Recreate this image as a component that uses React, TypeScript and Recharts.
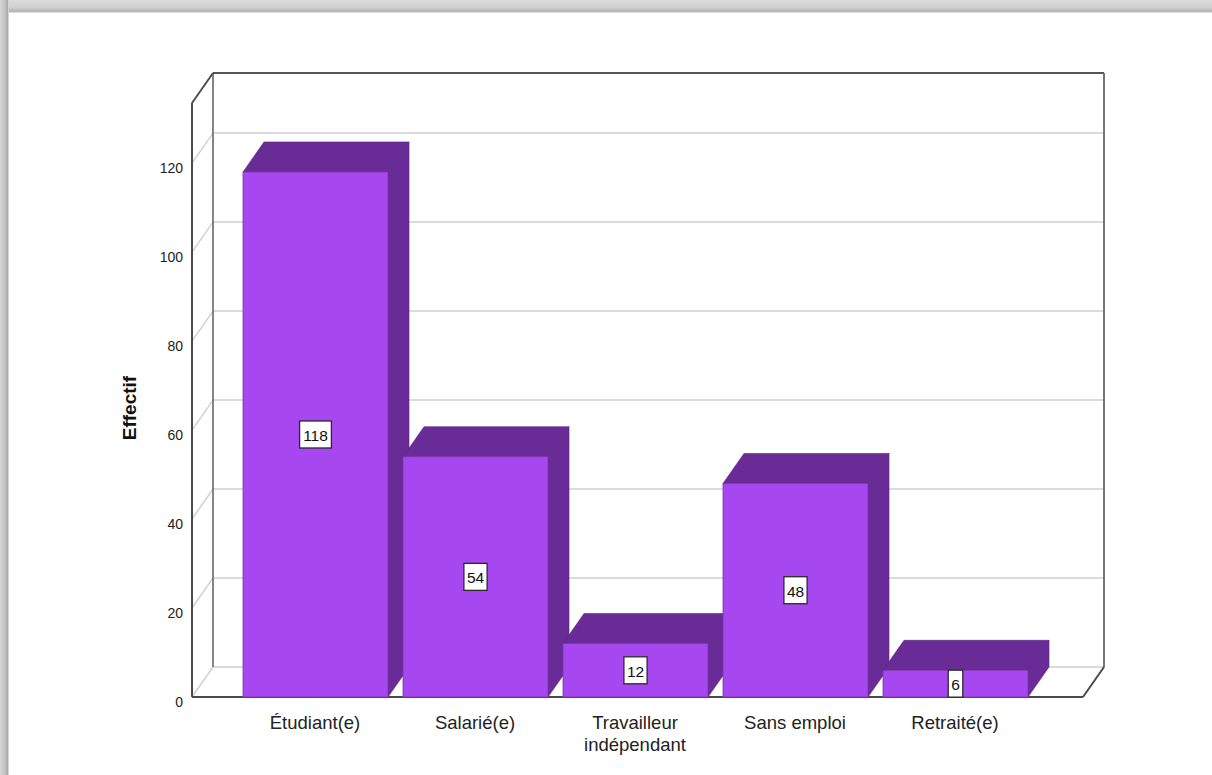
import React from 'react'
import { Bar, BarChart, CartesianGrid, Customized, LabelList, XAxis, YAxis, usePlotArea } from 'recharts'

const categories = ['Étudiant(e)', 'Salarié(e)', 'Travailleur\nindépendant', 'Sans emploi', 'Retraité(e)']
const counts = [118, 54, 12, 48, 6]
const yTicks = [0, 20, 40, 60, 80, 100, 120]
const yMax = 133.5

const data = categories.map((name, i) => ({ name, value: counts[i] }))

// depth of the fake 3d box
const DX = 21
const DY = -30
const FRONT = '#a647f0'
const DARK = '#692b95'
const FONT = '"Liberation Sans", Arial, sans-serif'

function Box3D(props: any) {
  const { x, y, width, height } = props
  if (!height) return null
  return (
    <g>
      <polygon
        points={`${x},${y} ${x + width},${y} ${x + width + DX},${y + DY} ${x + DX},${y + DY}`}
        fill={DARK}
        stroke="#5a2382"
        strokeWidth={0.6}
      />
      <polygon
        points={`${x + width},${y} ${x + width + DX},${y + DY} ${x + width + DX},${y + height + DY} ${x + width},${y + height}`}
        fill={DARK}
        stroke="#5a2382"
        strokeWidth={0.6}
      />
      <rect x={x} y={y} width={width} height={height} fill={FRONT} stroke="#7a35ad" strokeWidth={0.8} />
    </g>
  )
}

function ValueTag(props: any) {
  const { x, y, width, height, value } = props
  const cx = x + width / 2
  const cy = y + height / 2
  const w = String(value).length * 8.6 + 6
  return (
    <g>
      <rect x={cx - w / 2} y={cy - 13.5} width={w} height={27} fill="#fff" stroke="#2a2a2a" strokeWidth={1.3} />
      <text x={cx} y={cy + 1} textAnchor="middle" dominantBaseline="central" fontSize={15.5} fontFamily={FONT} fill="#111">
        {value}
      </text>
    </g>
  )
}

function GridLine(props: any) {
  const { x1, y1, x2 } = props
  return (
    <g key={props.key}>
      <line x1={x1 + DX} y1={y1 + DY} x2={x2 + DX} y2={y1 + DY} stroke="#cfcfcf" strokeWidth={1.6} />
      <line x1={x1} y1={y1} x2={x1 + DX} y2={y1 + DY} stroke="#cfcfcf" strokeWidth={1.4} />
    </g>
  )
}

function Frame() {
  const plot = usePlotArea()
  if (!plot) return null
  const { x, y, width: w, height: h } = plot
  const dark = '#4a4a4a'
  return (
    <g>
      <line x1={x + DX} y1={y + DY} x2={x + DX} y2={y + h + DY} stroke="#666" strokeWidth={1.6} />
      <line x1={x + DX} y1={y + DY} x2={x + w + DX} y2={y + DY} stroke="#555" strokeWidth={2} />
      <line x1={x + w + DX} y1={y + DY} x2={x + w + DX} y2={y + h + DY} stroke="#666" strokeWidth={1.8} />
      <line x1={x} y1={y} x2={x} y2={y + h} stroke={dark} strokeWidth={2} />
      <line x1={x} y1={y} x2={x + DX} y2={y + DY} stroke={dark} strokeWidth={1.8} />
      <line x1={x} y1={y + h} x2={x + w} y2={y + h} stroke={dark} strokeWidth={2} />
      <line x1={x + w} y1={y + h} x2={x + w + DX} y2={y + h + DY} stroke={dark} strokeWidth={2} />
      <text
        transform={`translate(${x - 63}, ${y + h / 2 + 8}) rotate(-90)`}
        textAnchor="middle"
        dominantBaseline="central"
        fontSize={19}
        fontWeight="bold"
        fontFamily={FONT}
        fill="#111"
      >
        Effectif
      </text>
    </g>
  )
}

function CategoryTick(props: any) {
  const { x, y, payload } = props
  const lines = String(payload.value).split('\n')
  return (
    <text x={x} y={y + 32} textAnchor="middle" fontSize={18.5} fontFamily={FONT} fill="#222">
      {lines.map((l, i) => (
        <tspan key={i} x={x} dy={i === 0 ? 0 : 22}>
          {l}
        </tspan>
      ))}
    </text>
  )
}

function CountTick(props: any) {
  const { x, y, payload } = props
  return (
    <text x={x} y={y + 5} textAnchor="end" dominantBaseline="central" fontSize={14} fontFamily={FONT} fill="#222">
      {payload.value}
    </text>
  )
}

export default function App() {
  return (
    <div style={{ position: 'absolute', left: 0, top: 0, width: 1212, height: 775, background: '#fff', overflow: 'hidden' }}>
      <div
        style={{
          position: 'absolute',
          left: 0,
          top: 0,
          width: 1212,
          height: 13,
          background: 'linear-gradient(to bottom, #dcdcdc 0%, #cfcfcf 60%, #b2b2b2 88%, #f2f2f2 100%)',
        }}
      />
      <div
        style={{
          position: 'absolute',
          left: 0,
          top: 0,
          width: 9,
          height: 775,
          background: 'linear-gradient(to right, #d6d6d6 0%, #c4c4c4 55%, #a9a9a9 85%, #f0f0f0 100%)',
        }}
      />
      <div style={{ position: 'absolute', left: 0, top: 0 }}>
        <BarChart width={1212} height={775} data={data} margin={{ top: 103, right: 129, left: 132, bottom: 18 }}>
          <Customized component={Frame} />
          <CartesianGrid vertical={false} horizontal={(p: any) => <GridLine {...p} />} />
          <XAxis
            dataKey="name"
            height={60}
            padding={{ left: 43, right: 48 }}
            axisLine={false}
            tickLine={false}
            tickSize={0}
            tickMargin={0}
            interval={0}
            tick={<CategoryTick />}
          />
          <YAxis
            width={60}
            domain={[0, yMax]}
            ticks={yTicks}
            axisLine={false}
            tickLine={false}
            tickSize={0}
            tickMargin={9}
            tick={<CountTick />}
          />
          <Bar dataKey="value" barSize={145} shape={(p: any) => <Box3D {...p} />} isAnimationActive={false}>
            <LabelList dataKey="value" content={(p: any) => <ValueTag {...p} />} />
          </Bar>
        </BarChart>
      </div>
    </div>
  )
}
